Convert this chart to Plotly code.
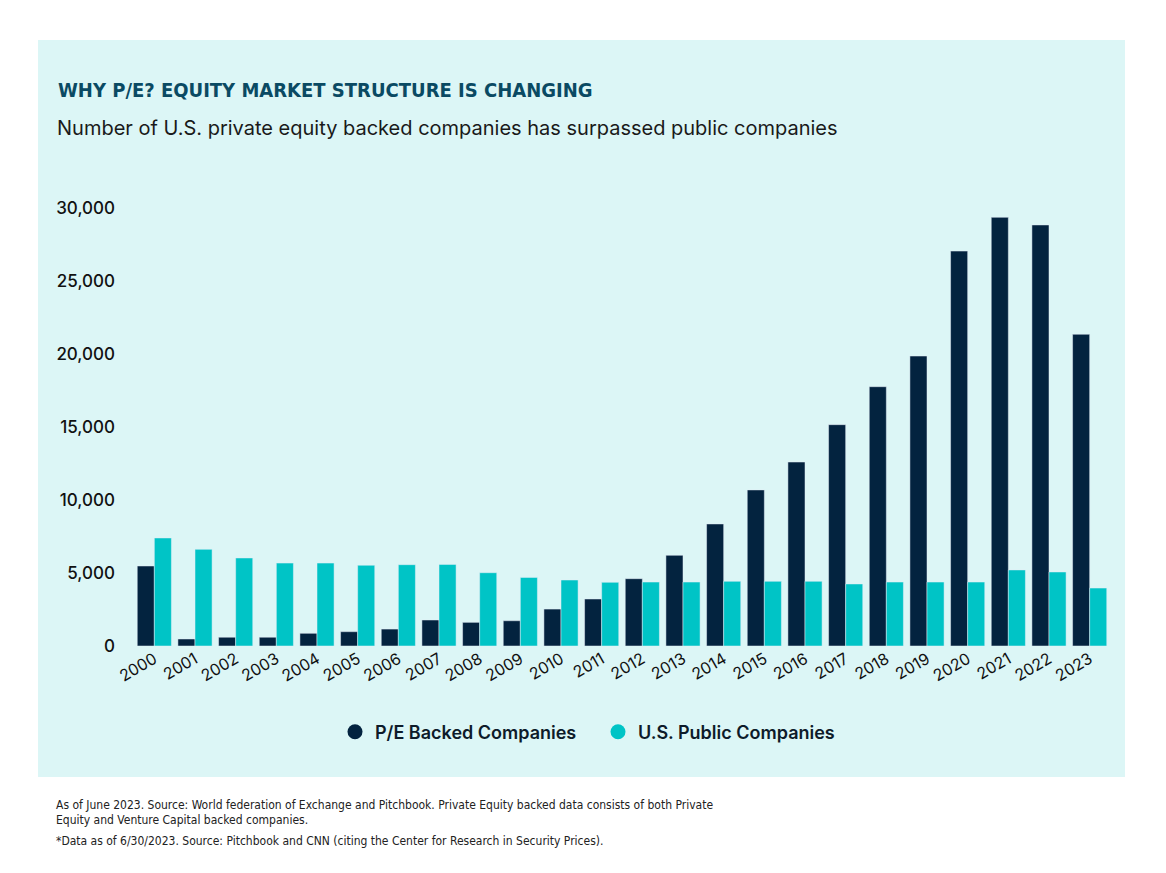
import plotly.graph_objects as go

# Data
years = [str(y) for y in range(2000, 2024)]
pe_backed = [5480, 480, 600, 600, 870, 980, 1160, 1780, 1620, 1730, 2530, 3220,
             4610, 6210, 8360, 10690, 12600, 15160, 17760, 19860, 27050, 29360,
             28840, 21350]
us_public = [7400, 6620, 6030, 5680, 5680, 5530, 5570, 5590, 5020, 4700, 4520, 4360,
             4380, 4380, 4430, 4430, 4430, 4250, 4380, 4380, 4380, 5210, 5070, 3970]
y_ticks = [0, 5000, 10000, 15000, 20000, 25000, 30000]

navy = "#03233f"
cyan = "#00c4c6"
panel = "#dcf6f6"

# the page body adds an 8px margin, so work in page pixels minus 8
OFF = 8
L, R, T, B = 134 - OFF, 1110 - OFF, 208 - OFF, 646 - OFF
W, H = R - L, B - T


def px(x):
    return (x - OFF - L) / W


def py(y):
    return (B - (y - OFF)) / H


fig = go.Figure()
fig.add_trace(go.Bar(x=years, y=pe_backed, name="P/E Backed Companies",
                     marker_color=navy, showlegend=False))
fig.add_trace(go.Bar(x=years, y=us_public, name="U.S. Public Companies",
                     marker_color=cyan, showlegend=False))

# round legend markers
for name, color in [("P/E Backed Companies", navy), ("U.S. Public Companies", cyan)]:
    fig.add_trace(go.Scatter(x=[None], y=[None], mode="markers", name=name,
                             marker=dict(color=color, size=15, symbol="circle")))

fig.add_shape(type="rect", xref="paper", yref="paper",
              x0=px(38), x1=px(1125), y0=py(777), y1=py(40),
              fillcolor=panel, line_width=0, layer="below")

narrow = "DejaVu Sans Condensed, sans-serif"
title_color = "#0a4a63"

fig.add_annotation(text="WHY P/E? EQUITY MARKET STRUCTURE IS CHANGING",
                   xref="paper", yref="paper", x=px(56), y=py(90),
                   xanchor="left", yanchor="middle", showarrow=False,
                   font=dict(family=narrow, size=20, color=title_color, weight=700))
fig.add_annotation(text="Number of U.S. private equity backed companies has surpassed public companies",
                   xref="paper", yref="paper", x=px(55), y=py(128),
                   xanchor="left", yanchor="middle", showarrow=False,
                   font=dict(family="Inter, Roboto, sans-serif", size=20, color="#1a1a1a"))

notes = [
    (805, "As of June 2023. Source: World federation of Exchange and Pitchbook. Private Equity backed data consists of both Private"),
    (820, "Equity and Venture Capital backed companies."),
    (841, "*Data as of 6/30/2023. Source: Pitchbook and CNN (citing the Center for Research in Security Prices)."),
]
for y, line in notes:
    fig.add_annotation(text=line, xref="paper", yref="paper", x=px(54), y=py(y),
                       xanchor="left", yanchor="middle", showarrow=False,
                       font=dict(family=narrow, size=12, color="#222222"))

fig.update_layout(
    width=1166, height=873,
    margin=dict(l=L, r=1166 - R, t=T, b=873 - B),
    paper_bgcolor="white", plot_bgcolor="rgba(0,0,0,0)",
    barmode="group", bargap=0.16, bargroupgap=0,
    font=dict(family="Inter, Roboto, sans-serif", color="#111111"),
    legend=dict(orientation="h", x=px(335), y=py(732), xanchor="left", yanchor="middle",
                font=dict(size=18, color="#0d1b2a", weight=600),
                bgcolor="rgba(0,0,0,0)", itemwidth=30, entrywidth=218),
    showlegend=True,
)
fig.update_xaxes(type="category", tickangle=-30, showgrid=False, zeroline=False,
                 showline=False, ticks="", tickfont=dict(size=16, color="#111111"),
                 range=[-0.5, len(years) - 0.5])
fig.update_yaxes(range=[0, 30000], tickvals=y_ticks, tickformat=",", showgrid=False,
                 zeroline=False, showline=False, ticks="", ticklabelstandoff=18,
                 tickfont=dict(size=17, color="#111111", weight=500))

fig.write_html("out.html")
